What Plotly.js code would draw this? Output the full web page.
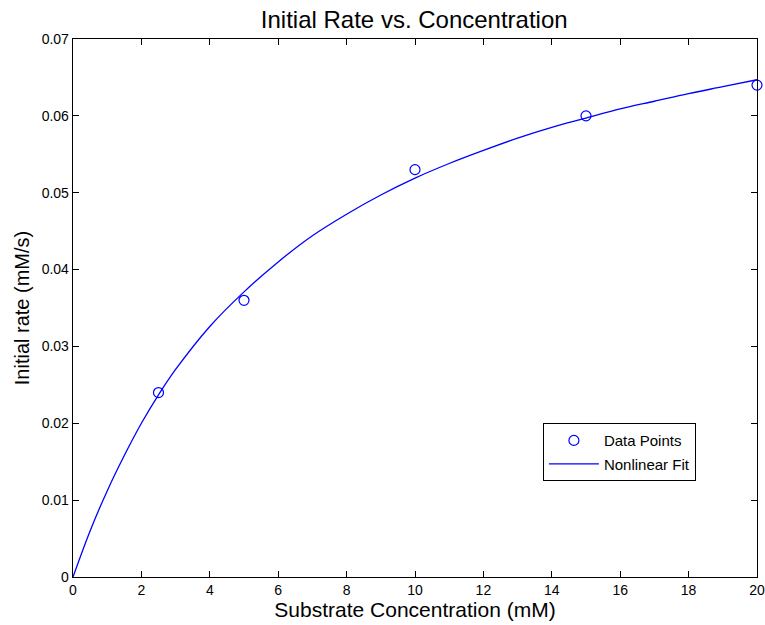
<!DOCTYPE html>
<html>
<head>
<meta charset="utf-8">
<script src="https://cdn.plot.ly/plotly-3.0.1.min.js"></script>
<style>html,body{margin:0;padding:0;background:#fff;}#chart{width:765px;height:625px;}</style>
</head>
<body>
<div id="chart"></div>
<script>
// Measured data points
const substrate = [2.5, 5, 10, 15, 20];
const rate = [0.024, 0.036, 0.053, 0.060, 0.064];

// Fitted curve, values
const fitX = [0, 0.5, 1, 1.5, 2, 2.5, 3, 4, 5, 6, 7, 8, 9, 10, 11, 12, 13, 14, 15, 16, 17, 18, 19, 20];
const fitY = [0, 0.0060, 0.0112, 0.0158, 0.0200, 0.0237, 0.0270, 0.0326, 0.0371, 0.0410, 0.0444, 0.0472, 0.0497, 0.0519, 0.0538, 0.0555, 0.0571, 0.0585, 0.0597, 0.0609, 0.0619, 0.0629, 0.0638, 0.0647];

const xTicks = [0, 2, 4, 6, 8, 10, 12, 14, 16, 18, 20];
const yTicks = [0, 0.01, 0.02, 0.03, 0.04, 0.05, 0.06, 0.07];
const yTickText = ['0', '0.01', '0.02', '0.03', '0.04', '0.05', '0.06', '0.07'];

const font = 'Liberation Sans, Arial, Helvetica, sans-serif';

const traces = [
  {
    x: substrate, y: rate, type: 'scatter', mode: 'markers', name: 'Data Points', legendgroup: 'a',
    marker: {symbol: 'circle-open', size: 10, color: '#0000ff', line: {width: 1.2, color: '#0000ff'}},
    cliponaxis: false
  },
  {
    x: fitX, y: fitY, type: 'scatter', mode: 'lines', name: 'Nonlinear Fit', legendgroup: 'b',
    line: {color: '#0000ff', width: 1.3, shape: 'spline', smoothing: 1}
  }
];

const axisCommon = {
  showgrid: false, zeroline: false, showline: true, linecolor: '#000', linewidth: 1.3,
  mirror: 'ticks', ticks: 'inside', ticklen: 6, tickwidth: 1, tickcolor: '#000',
  tickfont: {family: font, size: 14, color: '#000'}
};

const layout = {
  width: 765, height: 625,
  margin: {l: 73, r: 8, t: 39, b: 48},
  paper_bgcolor: '#fff', plot_bgcolor: '#fff',
  font: {family: font, color: '#000'},
  title: {text: 'Initial Rate vs. Concentration', font: {family: font, size: 24, color: '#000'}, x: 0.5415, xanchor: 'center', y: 0.969, yanchor: 'middle'},
  xaxis: Object.assign({}, axisCommon, {
    range: [0, 20], tickvals: xTicks, ticktext: xTicks.map(String),
    title: {text: 'Substrate Concentration (mM)', font: {family: font, size: 21, color: '#000'}, standoff: 2}
  }),
  yaxis: Object.assign({}, axisCommon, {
    range: [0, 0.07], tickvals: yTicks, ticktext: yTickText,
    title: {text: 'Initial rate (mM/s)', font: {family: font, size: 20, color: '#000'}, standoff: 6}
  }),
  legend: {
    x: 0.687, y: 0.286, xanchor: 'left', yanchor: 'top',
    bgcolor: '#fff', bordercolor: '#000', borderwidth: 1,
    font: {family: font, size: 15, color: '#000'},
    itemwidth: 50,
    tracegroupgap: 1
  },
  showlegend: true
};

Plotly.newPlot('chart', traces, layout, {displayModeBar: false, staticPlot: true});
</script>
</body>
</html>
